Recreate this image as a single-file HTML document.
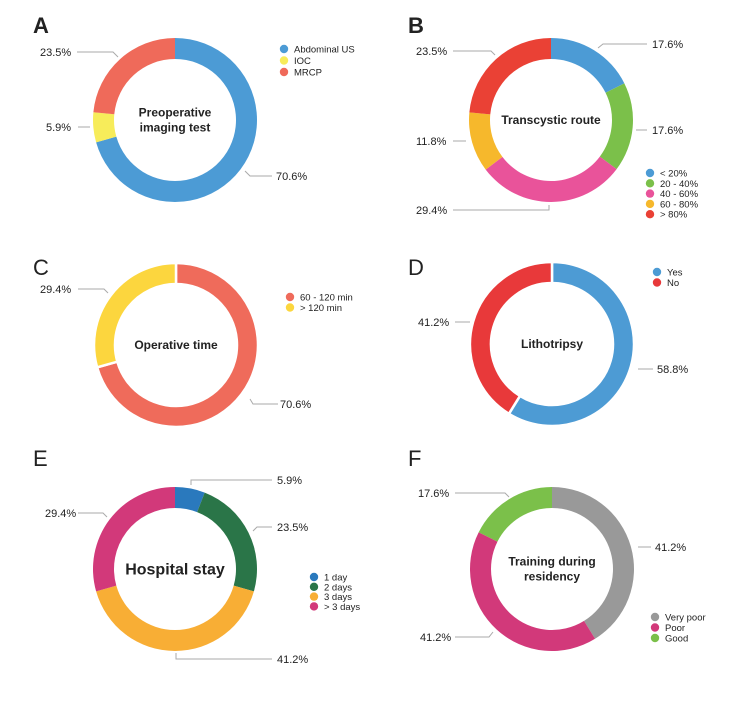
<!DOCTYPE html>
<html><head><meta charset="utf-8">
<style>
body{margin:0;background:#fff;}
svg text{font-family:"Liberation Sans",sans-serif;}
</style></head>
<body>
<svg id="fig" width="750" height="711" xmlns="http://www.w3.org/2000/svg">
<rect width="750" height="711" fill="#fff"/>
</svg>
<script>
// Data arrays
const aCategories = ["Abdominal US","IOC","MRCP"];
const aValues = [70.6, 5.9, 23.5];
const bCategories = ["< 20%","20 - 40%","40 - 60%","60 - 80%","> 80%"];
const bValues = [17.6, 17.6, 29.4, 11.8, 23.5];
const cCategories = ["60 - 120 min","> 120 min"];
const cValues = [70.6, 29.4];
const dCategories = ["Yes","No"];
const dValues = [58.8, 41.2];
const eCategories = ["1 day","2 days","3 days","> 3 days"];
const eValues = [5.9, 23.5, 41.2, 29.4];
const fCategories = ["Very poor","Poor","Good"];
const fValues = [41.2, 41.2, 17.6];

const NS="http://www.w3.org/2000/svg";
const svg=document.getElementById('fig');
function el(tag,attrs,parent){const e=document.createElementNS(NS,tag);for(const k in attrs)e.setAttribute(k,attrs[k]);(parent||svg).appendChild(e);return e;}
function txt(s,x,y,size,weight,parent,anchor){const t=el('text',{x:x,y:y,'font-size':size,'font-weight':weight||'normal',fill:'#222','text-anchor':anchor||'start'},parent);t.textContent=s;return t;}

const panels=[
 {id:'a',letter:'A',cx:175,cy:120,values:aValues,cats:aCategories,colors:['#4c9bd5','#f7ec5a','#ef6a5a'],title:['Preoperative','imaging test'],tsize:12,gap:false,
  legend:{x:284,y:49,dy:11.5},
  labels:[{s:'70.6%',x:276,y:180,line:'245,171 250,176 272,176'},{s:'5.9%',x:46,y:131,line:'78,127 90,127'},{s:'23.5%',x:40,y:56,line:'77,52 113,52 118,57'}]},
 {id:'b',letter:'B',cx:551,cy:120,values:bValues,cats:bCategories,colors:['#4c9bd5','#7bc04a','#e9539a','#f6b82c','#ea4135'],title:['Transcystic route'],tsize:12,gap:false,
  legend:{x:650,y:173,dy:10.3},
  labels:[{s:'17.6%',x:652,y:48,line:'598,48 603,44 647,44'},{s:'17.6%',x:652,y:134,line:'636,130 647,130'},{s:'29.4%',x:416,y:214,line:'453,210 549,210 549,205'},{s:'11.8%',x:416,y:145,line:'453,141 466,141'},{s:'23.5%',x:416,y:55,line:'453,51 491,51 495,55'}]},
 {id:'c',letter:'C',cx:176,cy:345,values:cValues,cats:cCategories,colors:['#ef6b5b','#fcd63e'],title:['Operative time'],tsize:12,gap:true,
  legend:{x:290,y:297,dy:10.5},
  labels:[{s:'70.6%',x:280,y:408,line:'250,399 253,404 278,404'},{s:'29.4%',x:40,y:293,line:'78,289 104,289 108,293'}]},
 {id:'d',letter:'D',cx:552,cy:344,values:dValues,cats:dCategories,colors:['#4d9bd4','#e8393a'],title:['Lithotripsy'],tsize:12,gap:true,
  legend:{x:657,y:272,dy:10.5},
  labels:[{s:'58.8%',x:657,y:373,line:'638,369 653,369'},{s:'41.2%',x:418,y:326,line:'455,322 470,322'}]},
 {id:'e',letter:'E',cx:175,cy:569,values:eValues,cats:eCategories,colors:['#2a79bd','#2a7548','#f8ae35','#d2397a'],title:['Hospital stay'],tsize:16,gap:false,
  legend:{x:314,y:577,dy:9.8},
  labels:[{s:'5.9%',x:277,y:484,line:'191,485 191,480 272,480'},{s:'23.5%',x:277,y:531,line:'253,531 257,527 272,527'},{s:'41.2%',x:277,y:663,line:'176,653 176,659 272,659'},{s:'29.4%',x:45,y:517,line:'78,513 103,513 107,517'}]},
 {id:'f',letter:'F',cx:552,cy:569,values:fValues,cats:fCategories,colors:['#999999','#d2397a','#7bc04a'],title:['Training during','residency'],tsize:12,gap:false,
  legend:{x:655,y:617,dy:10.5},
  labels:[{s:'41.2%',x:655,y:551,line:'638,547 651,547'},{s:'41.2%',x:420,y:641,line:'455,637 489,637 493,632'},{s:'17.6%',x:418,y:497,line:'455,493 505,493 509,497'}]}
];
const letterPos={A:[33,33],B:[408,33],C:[33,275],D:[408,275],E:[33,466],F:[408,466]};
const RO=82, RI=61;
function pt(cx,cy,r,a){return [cx+r*Math.sin(a),cy-r*Math.cos(a)];}
function arcPath(cx,cy,a0,a1){
  const large=(a1-a0)>Math.PI?1:0;
  const p0=pt(cx,cy,RO,a0),p1=pt(cx,cy,RO,a1),p2=pt(cx,cy,RI,a1),p3=pt(cx,cy,RI,a0);
  return `M${p0[0]},${p0[1]} A${RO},${RO} 0 ${large} 1 ${p1[0]},${p1[1]} L${p2[0]},${p2[1]} A${RI},${RI} 0 ${large} 0 ${p3[0]},${p3[1]} Z`;
}
panels.forEach(p=>{
  const g=el('g',{});
  
  
  const L=txt(p.letter,letterPos[p.letter][0],letterPos[p.letter][1],22,p.letter==='A'||p.letter==='B'?'bold':'normal',g);
  
  
  const total=p.values.reduce((s,v)=>s+v,0);
  let a=0;
  p.values.forEach((v,i)=>{
    const a1=a+v/total*2*Math.PI;
    const path=el('path',{d:arcPath(p.cx,p.cy,a,a1),fill:p.colors[i],stroke:p.gap?'#fff':'none','stroke-width':p.gap?2.5:0},g);
    
    
    a=a1;
  });
  const n=p.title.length;
  p.title.forEach((t,i)=>{
    const tt=txt(t,p.cx,p.cy+p.tsize*0.35+(i-(n-1)/2)*15,p.tsize,'bold',g,'middle');
    
    
  });
  p.labels.forEach((l,i)=>{
    const pl=el('polyline',{points:l.line,fill:'none',stroke:'#aaa','stroke-width':1},g);
    
    
    const t=txt(l.s,l.x,l.y,11,'normal',g);
    
    
  });
  p.cats.forEach((c,i)=>{
    const y=p.legend.y+i*p.legend.dy;
    const dot=el('circle',{cx:p.legend.x,cy:y,r:4.2,fill:p.colors[i]},g);
    
    
    const t=txt(c,p.legend.x+10,y+3.5,9.5,'normal',g);
    
    
  });
});
</script>
</body></html>
